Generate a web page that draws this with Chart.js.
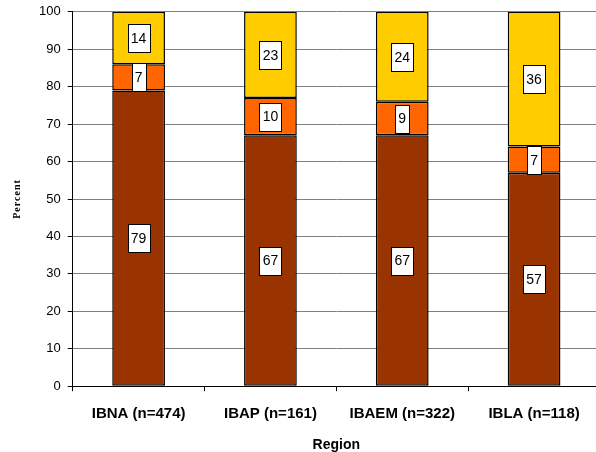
<!DOCTYPE html>
<html>
<head>
<meta charset="utf-8">
<script src="https://cdn.jsdelivr.net/npm/chart.js@4"></script>
<style>
  html, body { margin: 0; padding: 0; background: #fff; overflow: hidden; }
  #wrap { width: 600px; height: 457px; margin-top: -3px; }
</style>
</head>
<body>
<div id="wrap"><canvas id="regionChart" width="600" height="457"></canvas></div>
<script>
const regions = ['IBNA (n=474)', 'IBAP (n=161)', 'IBAEM (n=322)', 'IBLA (n=118)'];
const bottomValues = [79, 67, 67, 57];
const middleValues = [7, 10, 9, 7];
const topValues = [14, 23, 24, 36];
const yTicks = [0, 10, 20, 30, 40, 50, 60, 70, 80, 90, 100];

// White boxed value labels centred on each segment
const boxLabels = {
  id: 'boxLabels',
  afterDatasetsDraw(chart) {
    const ctx = chart.ctx;
    ctx.save();
    ctx.font = '14px Arial, "Liberation Sans", sans-serif';
    ctx.textAlign = 'center';
    ctx.textBaseline = 'middle';
    chart.data.datasets.forEach((ds, i) => {
      const meta = chart.getDatasetMeta(i);
      meta.data.forEach((bar, j) => {
        const text = String(ds.data[j]);
        const cy = (bar.y + bar.base) / 2;
        const w = Math.round(ctx.measureText(text).width) + 6;
        const h = 28;
        const x0 = Math.round(bar.x - w / 2) + 0.5;
        const y0 = Math.round(cy - h / 2) + 0.5;
        ctx.fillStyle = '#fff';
        ctx.fillRect(x0, y0, w, h);
        ctx.strokeStyle = '#000';
        ctx.lineWidth = 1;
        ctx.strokeRect(x0, y0, w, h);
        ctx.fillStyle = '#000';
        ctx.fillText(text, bar.x, cy + 1);
      });
    });
    ctx.restore();
  }
};

// Small serif y title, drawn by hand for letter spacing
const yTitle = {
  id: 'yTitle',
  afterDraw(chart) {
    const ctx = chart.ctx;
    const area = chart.chartArea;
    ctx.save();
    ctx.translate(17, (area.top + area.bottom) / 2);
    ctx.rotate(-Math.PI / 2);
    ctx.font = 'bold 10px "Liberation Serif", "Times New Roman", serif';
    ctx.fillStyle = '#000';
    ctx.textAlign = 'center';
    ctx.textBaseline = 'middle';
    if ('letterSpacing' in ctx) ctx.letterSpacing = '1px';
    ctx.fillText('Percent', 0, 0);
    ctx.restore();
  }
};

new Chart(document.getElementById('regionChart'), {
  type: 'bar',
  data: {
    labels: regions,
    datasets: [
      { data: bottomValues, backgroundColor: '#993300' },
      { data: middleValues, backgroundColor: '#FF6600' },
      { data: topValues, backgroundColor: '#FFCC00' }
    ]
  },
  options: {
    responsive: false,
    animation: false,
    barPercentage: 0.8,
    categoryPercentage: 0.5,
    datasets: {
      bar: { borderColor: '#000', borderWidth: 1.5, borderSkipped: false, inflateAmount: 0 }
    },
    layout: { padding: { top: 2, left: 32, right: 0, bottom: 0 } },
    plugins: {
      legend: { display: false },
      tooltip: { enabled: false }
    },
    scales: {
      x: {
        stacked: true,
        offset: true,
        grid: { offset: true, drawOnChartArea: false, drawTicks: true, tickLength: 5, tickColor: '#000' },
        border: { color: '#000', width: 1 },
        ticks: {
          color: '#000',
          padding: 14,
          maxRotation: 0,
          minRotation: 0,
          autoSkip: false,
          font: { family: 'Arial, "Liberation Sans", sans-serif', size: 15, weight: 'bold' }
        },
        title: {
          display: true,
          text: 'Region',
          color: '#000',
          padding: { top: 0, bottom: 0 },
          font: { family: 'Arial, "Liberation Sans", sans-serif', size: 14, weight: 'bold' }
        }
      },
      y: {
        stacked: true,
        min: 0,
        max: 100,
        afterBuildTicks(axis) { axis.ticks = yTicks.map(v => ({ value: v })); },
        grid: { color: '#808080', tickColor: '#000', tickLength: 5 },
        border: { color: '#000', width: 1 },
        ticks: {
          color: '#000',
          padding: 7,
          font: { family: 'Arial, "Liberation Sans", sans-serif', size: 13 }
        }
      }
    }
  },
  plugins: [boxLabels, yTitle]
});
</script>
</body>
</html>
